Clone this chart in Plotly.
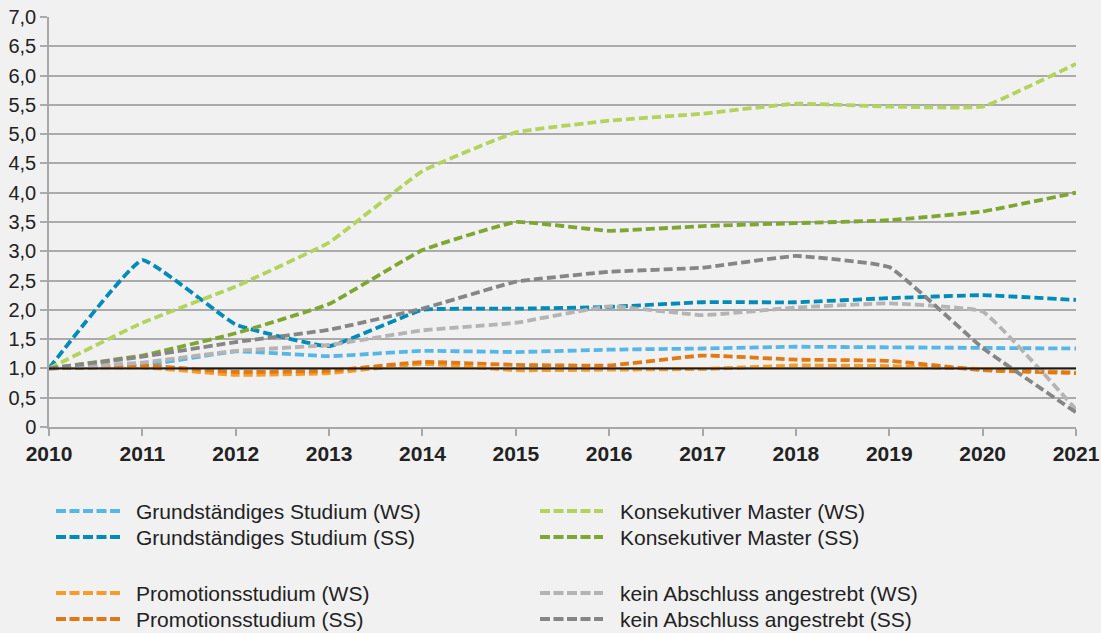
import plotly.graph_objects as go

# Jahre
years = [2010, 2011, 2012, 2013, 2014, 2015, 2016, 2017, 2018, 2019, 2020, 2021]

# Indexwerte (2010 = 1,0)
grund_ws = [1.0, 1.05, 1.29, 1.21, 1.30, 1.28, 1.32, 1.34, 1.37, 1.36, 1.35, 1.34]
grund_ss = [1.0, 2.85, 1.75, 1.38, 2.00, 2.02, 2.05, 2.13, 2.13, 2.20, 2.25, 2.17]
prom_ws = [1.0, 1.02, 0.89, 0.92, 1.08, 0.97, 0.98, 0.99, 1.05, 1.04, 0.99, 0.93]
prom_ss = [1.0, 1.05, 0.94, 0.96, 1.11, 1.06, 1.05, 1.22, 1.15, 1.13, 0.97, 0.92]
master_ws = [1.0, 1.78, 2.40, 3.15, 4.37, 5.03, 5.23, 5.35, 5.52, 5.47, 5.47, 6.20]
master_ss = [1.0, 1.22, 1.60, 2.10, 3.02, 3.50, 3.35, 3.43, 3.48, 3.53, 3.68, 4.00]
kein_ws = [1.0, 1.10, 1.30, 1.40, 1.65, 1.78, 2.06, 1.91, 2.04, 2.11, 1.97, 0.30]
kein_ss = [1.0, 1.20, 1.45, 1.66, 2.02, 2.48, 2.65, 2.72, 2.92, 2.73, 1.35, 0.25]
basis = [1.0] * len(years)

series_names = [
    "Grundständiges Studium (WS)", "Grundständiges Studium (SS)",
    "Promotionsstudium (WS)", "Promotionsstudium (SS)",
    "Konsekutiver Master (WS)", "Konsekutiver Master (SS)",
    "kein Abschluss angestrebt (WS)", "kein Abschluss angestrebt (SS)",
]
series_values = [grund_ws, grund_ss, prom_ws, prom_ss, master_ws, master_ss, kein_ws, kein_ss]
series_colors = ["#56b7e6", "#008bb8", "#f59c2a", "#e07a16",
                 "#b4d35c", "#80a632", "#b4b4b4", "#868686"]

y_tickvals = [0, 0.5, 1, 1.5, 2, 2.5, 3, 3.5, 4, 4.5, 5, 5.5, 6, 6.5, 7]
y_ticktext = ["0", "0,5", "1,0", "1,5", "2,0", "2,5", "3,0", "3,5",
              "4,0", "4,5", "5,0", "5,5", "6,0", "6,5", "7,0"]

W, H = 1101, 633
L, R, T, B = 49, 1076, 17, 427
FONT = "Liberation Sans, Arial, Helvetica, sans-serif"
BG = "#f1f1f1"
DASH = "9px,4px"

fig = go.Figure()

for name, vals, col in zip(series_names, series_values, series_colors):
    fig.add_trace(go.Scatter(
        x=years, y=vals, name=name, mode="lines", cliponaxis=False,
        line=dict(color=col, width=3.8, dash=DASH, shape="spline", smoothing=0.3),
        showlegend=False,
    ))

# Bezugslinie 1,0
fig.add_trace(go.Scatter(
    x=years, y=basis, mode="lines",
    line=dict(color="#1a1a1a", width=2), showlegend=False, hoverinfo="skip",
))


def px_to_paper(px, py):
    return (px - L) / (R - L), (B - py) / (B - T)


# Legende in zwei Spalten mit Abstand zwischen den Gruppen
legend_rows_y = [511, 537, 593, 619]
legend_cols = [(56, 120, 136), (540, 603, 620)]
shapes = []
annotations = []
for i, (name, col) in enumerate(zip(series_names, series_colors)):
    c = i // 4
    r = i % 4
    x0, x1, xt = legend_cols[c]
    yy = legend_rows_y[r]
    px0, py0 = px_to_paper(x0, yy)
    px1, _ = px_to_paper(x1, yy)
    pxt, _ = px_to_paper(xt, yy)
    shapes.append(dict(type="line", xref="paper", yref="paper",
                       x0=px0, x1=px1, y0=py0, y1=py0,
                       line=dict(color=col, width=3.8, dash="10px,3.5px")))
    annotations.append(dict(xref="paper", yref="paper", x=pxt, y=py0,
                            text=name, showarrow=False, xanchor="left", yanchor="middle",
                            xshift=-2,
                            font=dict(family=FONT, size=21, color="#222222")))

fig.update_layout(
    width=W, height=H,
    margin=dict(l=L, r=W - R, t=T, b=H - B, autoexpand=False),
    paper_bgcolor=BG, plot_bgcolor=BG,
    font=dict(family=FONT, color="#222222"),
    shapes=shapes, annotations=annotations,
    showlegend=False,
)

fig.update_xaxes(
    range=[2010, 2021], tickvals=years, ticktext=[str(y) for y in years],
    showgrid=False, zeroline=False, automargin=False,
    showline=True, linecolor="#a8a8a8", linewidth=1.5,
    ticks="outside", ticklen=7, tickcolor="#a8a8a8", tickwidth=1.5,
    tickfont=dict(family=FONT, size=21, color="#222222", weight="bold"),
)
fig.update_yaxes(
    range=[0, 7], tickvals=y_tickvals, ticktext=y_ticktext,
    showgrid=True, gridcolor="#ababab", gridwidth=1.5, zeroline=False, automargin=False,
    showline=True, linecolor="#a8a8a8", linewidth=1.5,
    ticks="outside", ticklen=7, tickcolor="#ababab", tickwidth=1.5,
    tickfont=dict(family=FONT, size=20, color="#222222"),
)

fig.write_html("out.html")
